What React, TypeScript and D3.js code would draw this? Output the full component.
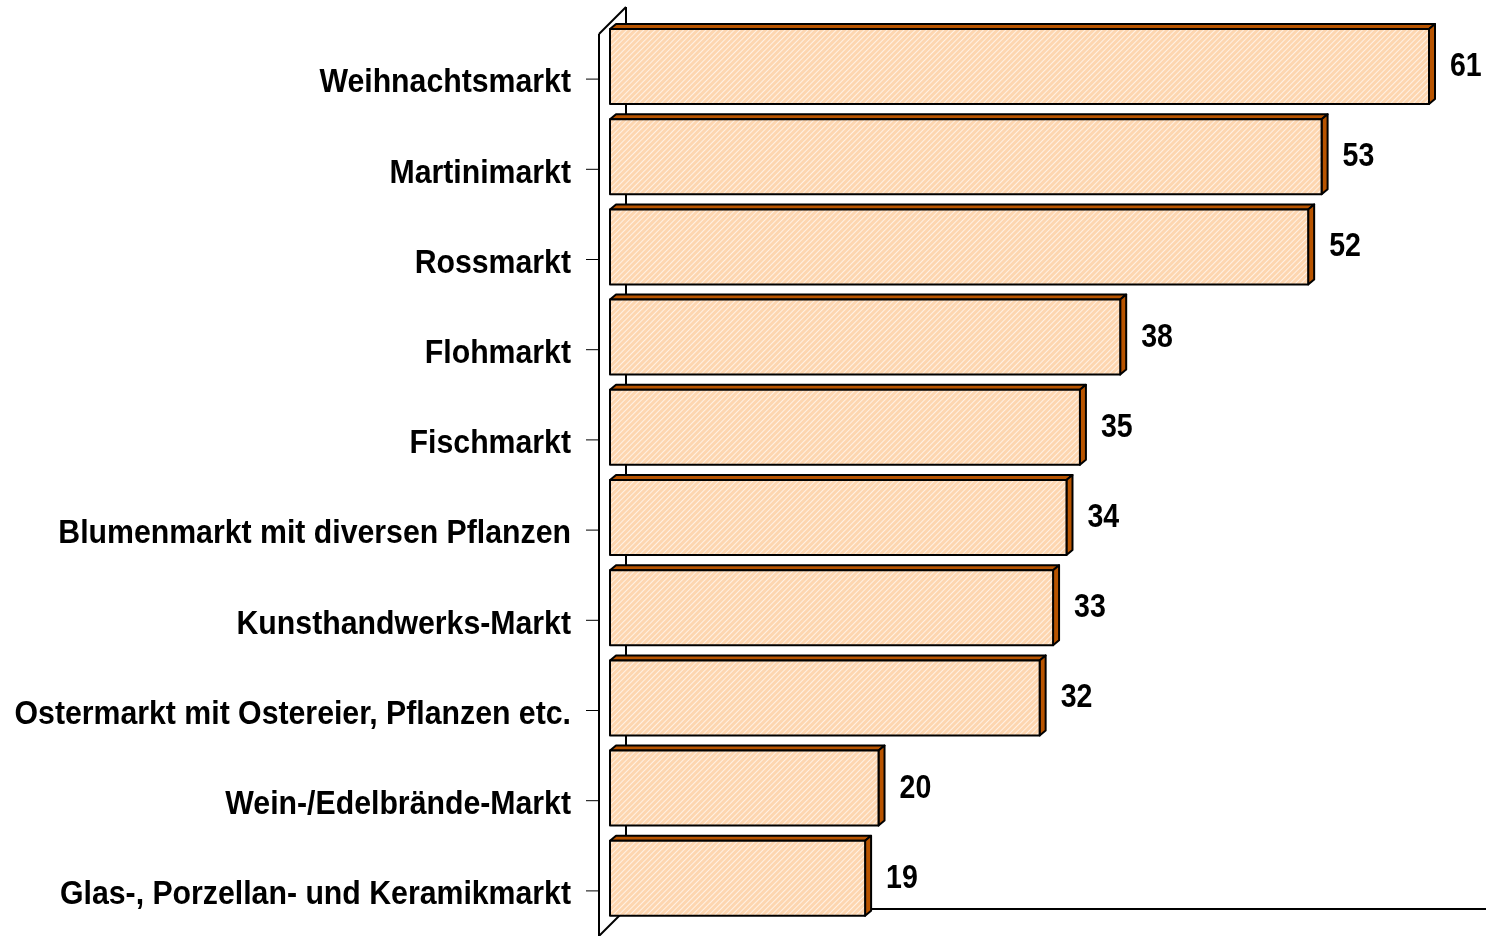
import React from 'react';
import * as d3 from 'd3';

const categories = [
  'Weihnachtsmarkt',
  'Martinimarkt',
  'Rossmarkt',
  'Flohmarkt',
  'Fischmarkt',
  'Blumenmarkt mit diversen Pflanzen',
  'Kunsthandwerks-Markt',
  'Ostermarkt mit Ostereier, Pflanzen etc.',
  'Wein-/Edelbrände-Markt',
  'Glas-, Porzellan- und Keramikmarkt',
];
const values = [61, 53, 52, 38, 35, 34, 33, 32, 20, 19];

const W = 1486;
const H = 936;
const FONT = '"Liberation Sans", Arial, sans-serif';

export default function App() {
  // front plane of the axis
  const axisX = 599;
  const depth = 27; // wall depth (perspective)
  const y = d3.scaleBand<string>().domain(categories).range([34, 936]);
  const x = d3.scaleLinear().domain([0, 61]).range([610, 1429]);
  const bdx = 6;
  const bdy = -5;

  return (
    <div style={{ position: 'fixed', left: 0, top: 0 }}>
      <svg width={W} height={H} style={{ display: 'block' }}>
        <defs>
          <pattern id="hatch" width="4" height="4" patternUnits="userSpaceOnUse" patternTransform="rotate(45)">
            <rect width="4" height="4" fill="#FDD6B0" />
            <line x1="0" y1="0" x2="0" y2="4" stroke="#FFF1E4" strokeWidth="2" />
          </pattern>
        </defs>

        {/* walls */}
        <g fill="none" stroke="#000" strokeWidth={2}>
          <line x1={axisX} y1={y.range()[0]} x2={axisX} y2={y.range()[1]} />
          <line x1={axisX + depth} y1={y.range()[0] - depth} x2={axisX + depth} y2={y.range()[1] - depth} />
          <line x1={axisX} y1={y.range()[0]} x2={axisX + depth} y2={y.range()[0] - depth} />
          <line x1={axisX} y1={y.range()[1]} x2={axisX + depth} y2={y.range()[1] - depth} />
          <line x1={axisX + depth} y1={y.range()[1] - depth} x2={W} y2={y.range()[1] - depth} />
        </g>

        {/* ticks and category labels */}
        {categories.map((c) => {
          const cy = (y(c) as number) + y.bandwidth() / 2;
          return (
            <g key={c}>
              <line x1={axisX - 13} x2={axisX} y1={cy} y2={cy} stroke="#000" strokeWidth={1} />
              <text
                transform={`translate(${axisX - 28},${cy}) scale(0.89,1)`}
                dy="0.39em"
                textAnchor="end"
                fontFamily={FONT}
                fontWeight="bold"
                fontSize={34}
                fill="#000"
              >
                {c}
              </text>
            </g>
          );
        })}

        {/* bars */}
        {categories.map((c, i) => {
          const top = (y(c) as number) - 5;
          const bottom = top + 75;
          const x0 = x(0);
          const x1 = x(values[i]);
          return (
            <g key={c} stroke="#000" strokeWidth={2} strokeLinejoin="round">
              <path
                d={`M${x0},${top} L${x0 + bdx},${top + bdy} L${x1 + bdx},${top + bdy} L${x1},${top} Z`}
                fill="#B85400"
              />
              <path
                d={`M${x1},${top} L${x1 + bdx},${top + bdy} L${x1 + bdx},${bottom + bdy} L${x1},${bottom} Z`}
                fill="#B85400"
              />
              <rect x={x0} y={top} width={x1 - x0} height={bottom - top} fill="url(#hatch)" />
              <text
                transform={`translate(${x1 + 21},${(top + bottom) / 2 + 9.5}) scale(0.84,1)`}
                fontFamily={FONT}
                fontWeight="bold"
                fontSize={34}
                fill="#000"
                stroke="none"
              >
                {values[i]}
              </text>
            </g>
          );
        })}
      </svg>
    </div>
  );
}
